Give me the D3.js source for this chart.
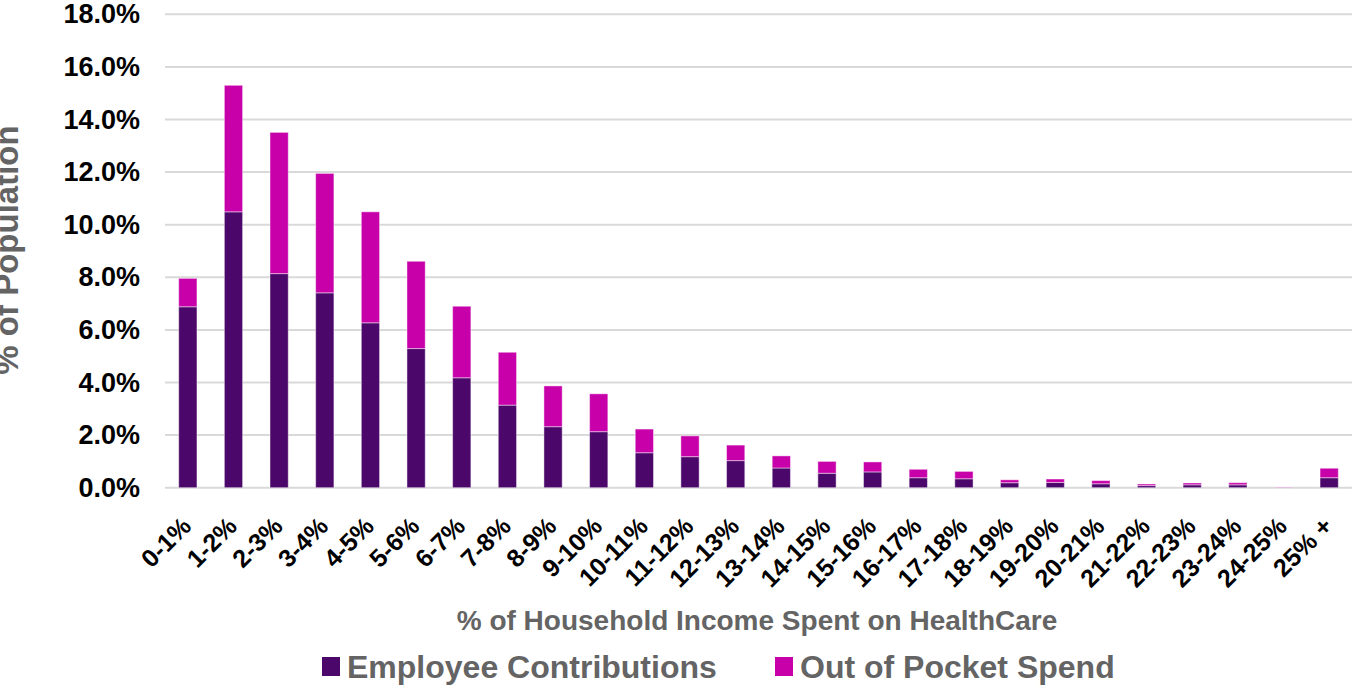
<!DOCTYPE html>
<html lang="en">
<head>
<meta charset="UTF-8">
<title>% of Household Income Spent on HealthCare</title>
<script src="https://cdn.jsdelivr.net/npm/d3@7"></script>
<style>
  body { margin: 0; background: #fff; }
  svg { display: block; font-family: "Liberation Sans", Arial, sans-serif; }
</style>
</head>
<body>
<div id="container"></div>
<script>
const categories = ["0-1%", "1-2%", "2-3%", "3-4%", "4-5%", "5-6%", "6-7%", "7-8%", "8-9%", "9-10%",
  "10-11%", "11-12%", "12-13%", "13-14%", "14-15%", "15-16%", "16-17%", "17-18%", "18-19%", "19-20%",
  "20-21%", "21-22%", "22-23%", "23-24%", "24-25%", "25% +"];

// values in percent of population
const employeeContributions = [6.88, 10.49, 8.14, 7.41, 6.27, 5.29, 4.18, 3.14, 2.32, 2.13,
  1.33, 1.18, 1.03, 0.75, 0.55, 0.60, 0.38, 0.34, 0.19, 0.20,
  0.15, 0.08, 0.11, 0.11, 0.01, 0.38];
const outOfPocketSpend = [1.08, 4.81, 5.37, 4.54, 4.22, 3.32, 2.72, 2.01, 1.55, 1.44,
  0.90, 0.79, 0.59, 0.46, 0.45, 0.38, 0.32, 0.28, 0.11, 0.13,
  0.12, 0.06, 0.07, 0.08, 0.01, 0.36];

const seriesNames = ["Employee Contributions", "Out of Pocket Spend"];
const yTicks = [0, 2, 4, 6, 8, 10, 12, 14, 16, 18];

const width = 1352;
const height = 685;
const marginLeft = 165;
const marginRight = 0;
const plotTop = 14.3;
const plotBottom = 487.7;

const colors = ["#4b086a", "#c800aa"];
const titleGray = "#646464";

const rows = categories.map((c, i) => ({
  cat: c,
  "Employee Contributions": employeeContributions[i],
  "Out of Pocket Spend": outOfPocketSpend[i]
}));
const stacked = d3.stack().keys(seriesNames)(rows);

const x = d3.scaleBand()
    .domain(categories)
    .range([marginLeft, width - marginRight])
    .paddingInner(0.6)
    .paddingOuter(0.3);

const y = d3.scaleLinear()
    .domain([0, 18])
    .range([plotBottom, plotTop]);

const svg = d3.create("svg")
    .attr("width", width)
    .attr("height", height);

// gridlines
svg.append("g")
  .selectAll("line")
  .data(yTicks)
  .join("line")
    .attr("x1", marginLeft)
    .attr("x2", width - marginRight)
    .attr("y1", d => y(d))
    .attr("y2", d => y(d))
    .attr("stroke", "#d9d9d9")
    .attr("stroke-width", 2);

// y axis labels
const yAxis = svg.append("g")
    .attr("transform", `translate(${marginLeft},0)`)
    .call(d3.axisLeft(y).tickValues(yTicks).tickFormat(d => d.toFixed(1) + "%").tickSize(0).tickPadding(25));
yAxis.select(".domain").remove();
yAxis.selectAll("text")
    .attr("font-size", 27)
    .attr("font-weight", "bold")
    .attr("fill", "#000")
    .attr("font-family", "Liberation Sans, Arial, sans-serif");

// bars
svg.append("g")
  .selectAll("g")
  .data(stacked)
  .join("g")
    .attr("fill", (d, i) => colors[i])
  .selectAll("rect")
  .data(d => d)
  .join("rect")
    .attr("x", d => x(d.data.cat))
    .attr("width", x.bandwidth())
    .attr("y", d => y(d[1]))
    .attr("height", d => y(d[0]) - y(d[1]))
    .attr("stroke", "#fff")
    .attr("stroke-opacity", 0.45)
    .attr("stroke-width", 1);

// x labels, rotated
svg.append("g")
  .selectAll("text")
  .data(categories)
  .join("text")
    .attr("transform", d => `translate(${x(d) + x.bandwidth() / 2 + 5},${plotBottom + 40}) rotate(-45)`)
    .attr("text-anchor", "end")
    .attr("font-size", 25)
    .attr("font-weight", "bold")
    .attr("fill", "#000")
    .text(d => d);

// axis titles
svg.append("text")
    .attr("x", 757)
    .attr("y", 630)
    .attr("text-anchor", "middle")
    .attr("font-size", 28)
    .attr("font-weight", "bold")
    .attr("fill", titleGray)
    .text("% of Household Income Spent on HealthCare");

svg.append("text")
    .attr("transform", `translate(18,250) rotate(-90)`)
    .attr("text-anchor", "middle")
    .attr("font-size", 33)
    .attr("font-weight", "bold")
    .attr("fill", titleGray)
    .text("% of Population");

// legend
const legendX = [322, 775];
const legend = svg.append("g")
  .selectAll("g")
  .data(seriesNames)
  .join("g")
    .attr("transform", (d, i) => `translate(${legendX[i]},657)`);
legend.append("rect")
    .attr("width", 18)
    .attr("height", 19)
    .attr("fill", (d, i) => colors[i]);
legend.append("text")
    .attr("x", 25)
    .attr("y", 21)
    .attr("font-size", 32)
    .attr("font-weight", "bold")
    .attr("fill", titleGray)
    .text(d => d);

document.getElementById("container").append(svg.node());
</script>
</body>
</html>
